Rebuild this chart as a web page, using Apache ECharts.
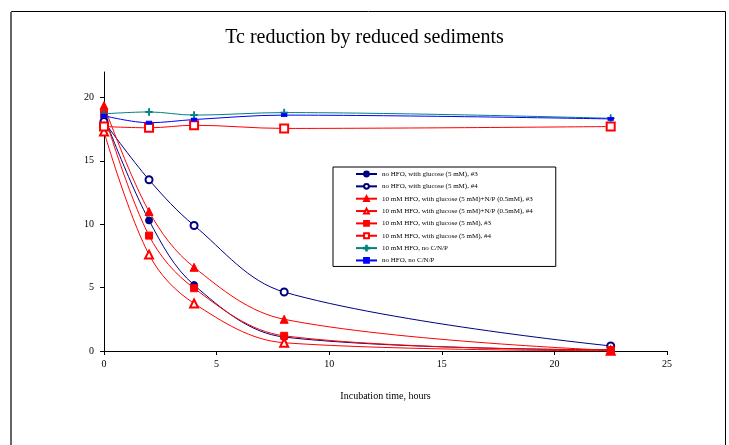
<!DOCTYPE html>
<html>
<head>
<meta charset="utf-8">
<script src="https://cdn.jsdelivr.net/npm/echarts@6/dist/echarts.min.js"></script>
<style>
html,body{margin:0;padding:0;background:#fff;}
#chart{width:729px;height:445px;}
</style>
</head>
<body>
<div id="chart"></div>
<script>
const hours = [0, 2, 4, 8, 22.5];
const noHfoGlucose3 = [18.5, 10.3, 5.2, 1.1, 0.1];
const noHfoGlucose4 = [18.1, 13.5, 9.9, 4.65, 0.4];
const hfoGlucoseNP3 = [19.35, 11.0, 6.6, 2.5, 0.05];
const hfoGlucoseNP4 = [17.3, 7.6, 3.75, 0.65, 0.02];
const hfoGlucose3 = [18.7, 9.1, 4.95, 1.2, 0.08];
const hfoGlucose4 = [17.7, 17.6, 17.8, 17.55, 17.7];
const hfoNoCNP = [18.7, 18.85, 18.6, 18.8, 18.35];
const noHfoNoCNP = [18.55, 18.0, 18.25, 18.6, 18.3];
const seriesNames = [
  'no HFO, with glucose (5 mM), #3',
  'no HFO, with glucose (5 mM), #4',
  '10 mM HFO, with glucose (5 mM)+N/P (0.5mM), #3',
  '10 mM HFO, with glucose (5 mM)+N/P (0.5mM), #4',
  '10 mM HFO, with glucose (5 mM), #3',
  '10 mM HFO, with glucose (5 mM), #4',
  '10 mM HFO, no C/N/P',
  'no HFO, no C/N/P'
];
const yTicks = [0, 5, 10, 15, 20];
const xTicks = [0, 5, 10, 15, 20, 25];

const pair = arr => hours.map((h, i) => [h, arr[i]]);
const font = '"Liberation Serif", "Times New Roman", serif';
const plus = 'path://M4.4,0H5.6V4.4H10V5.6H5.6V10H4.4V5.6H0V4.4H4.4Z';
const dash = 'path://M0,3H10V7H0Z';

function mk(name, data, color, symbol, size) {
  return {
    name: name, type: 'line', data: pair(data), smooth: 0.35,
    symbol: symbol, symbolSize: size, showSymbol: true,
    lineStyle: {color: color, width: 1},
    itemStyle: {color: color, borderColor: color, borderWidth: 1},
    emphasis: {disabled: true}, animation: false
  };
}

const chart = echarts.init(document.getElementById('chart'), null, {renderer: 'canvas'});
chart.setOption({
  backgroundColor: '#fff',
  animation: false,
  title: {
    text: 'Tc reduction by reduced sediments',
    left: 'center', top: 23,
    textStyle: {fontFamily: font, fontSize: 20, fontWeight: 'normal', color: '#000'}
  },
  graphic: [
    {type: 'rect', shape: {x: 11.5, y: 11.5, width: 714, height: 500}, style: {fill: 'none', stroke: '#000', lineWidth: 1}, silent: true},
    {type: 'line', shape: {x1: 11, y1: 12, x2: 11, y2: 445}, style: {stroke: '#666', lineWidth: 2}, silent: true}
  ],
  grid: {left: 104, right: 62, top: 72, bottom: 94},
  legend: {
    orient: 'vertical', left: 333, top: 167,
    data: seriesNames,
    backgroundColor: '#fff', borderColor: '#000', borderWidth: 1,
    padding: [3, 23, 2, 22],
    itemWidth: 21, itemHeight: 6, itemGap: 4.35,
    textStyle: {fontFamily: font, fontSize: 7, color: '#000', lineHeight: 8},
    selectedMode: false
  },
  xAxis: {
    type: 'value', min: 0, max: 25, interval: 5,
    name: 'Incubation time, hours', nameLocation: 'middle', nameGap: 40,
    nameTextStyle: {fontFamily: font, fontSize: 10, color: '#000'},
    axisLine: {onZero: false, lineStyle: {color: '#000', width: 1}},
    axisTick: {show: true, length: 4, lineStyle: {color: '#000'}, customValues: xTicks},
    axisLabel: {fontFamily: font, fontSize: 10, color: '#000', margin: 8, customValues: xTicks},
    splitLine: {show: false}
  },
  yAxis: {
    type: 'value', min: 0, max: 22, interval: 5,
    axisLine: {show: true, lineStyle: {color: '#000', width: 1}},
    axisTick: {show: true, length: 4, lineStyle: {color: '#000'}, customValues: yTicks},
    axisLabel: {fontFamily: font, fontSize: 10, color: '#000', margin: 10, customValues: yTicks},
    splitLine: {show: false}
  },
  series: [
    mk(seriesNames[0], noHfoGlucose3, '#000080', 'circle', 7),
    mk(seriesNames[1], noHfoGlucose4, '#000080', 'emptyCircle', 7),
    mk(seriesNames[2], hfoGlucoseNP3, '#ff0000', 'triangle', 8),
    mk(seriesNames[3], hfoGlucoseNP4, '#ff0000', 'emptyTriangle', 8),
    mk(seriesNames[4], hfoGlucose3, '#ff0000', 'rect', 7),
    mk(seriesNames[5], hfoGlucose4, '#ff0000', 'emptyRect', 8),
    mk(seriesNames[6], hfoNoCNP, '#008080', plus, 7),
    mk(seriesNames[7], noHfoNoCNP, '#0000ff', dash, [5, 3])
  ]
});
</script>
</body>
</html>
